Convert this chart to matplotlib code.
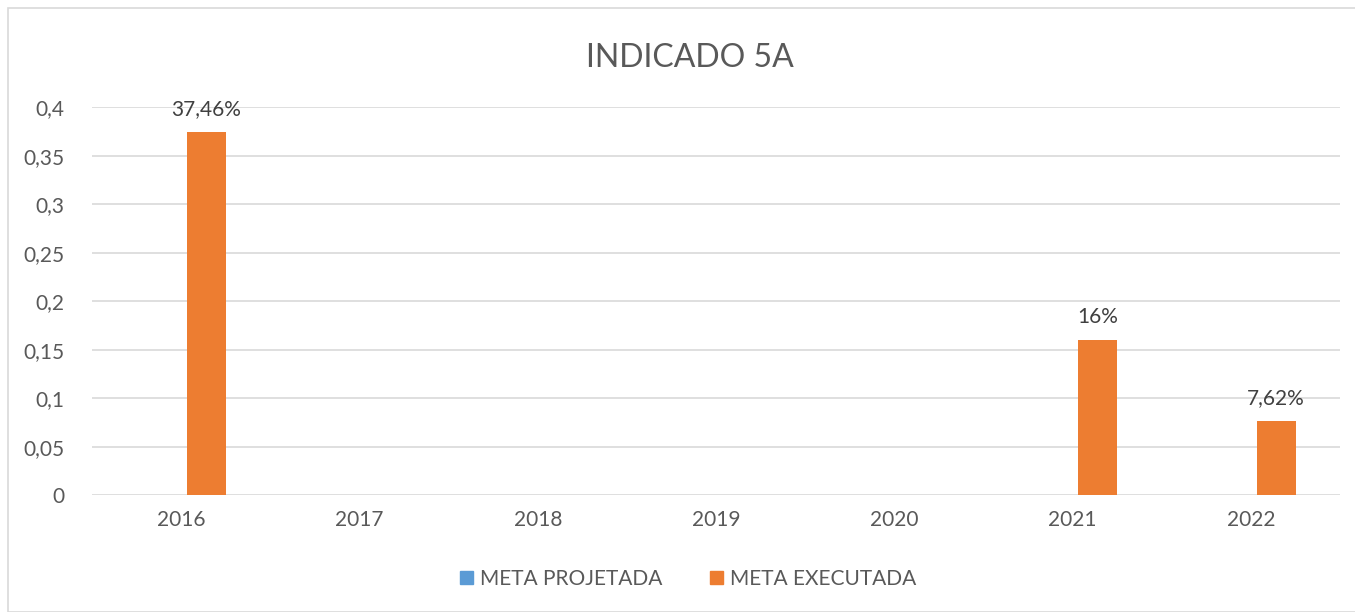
import matplotlib.pyplot as plt
import numpy as np
from matplotlib.patches import Rectangle, Patch

years = ['2016', '2017', '2018', '2019', '2020', '2021', '2022']
meta_projetada = [0, 0, 0, 0, 0, 0, 0]
meta_executada = [0.3746, None, None, None, None, 0.16, 0.0762]
labels_executada = ['37,46%', '', '', '', '', '16%', '7,62%']
yticks = [0, 0.05, 0.1, 0.15, 0.2, 0.25, 0.3, 0.35, 0.4]

plt.rcParams['font.family'] = ['Lato', 'DejaVu Sans']
textColor = '#595959'
blue = '#5b9bd5'
orange = '#ed7d31'

fig = plt.figure(figsize=(13.55, 6.12), dpi=100)
ax = fig.add_axes([0.0679, 0.191, 0.921, 0.634])

x = np.arange(len(years))
width = 0.22
offset = 0.142

# blue series is empty (zeros), only drawn for legend consistency
ax.bar(x - offset, meta_projetada, width, color=blue)
execVals = [v if v is not None else 0 for v in meta_executada]
ax.bar(x + offset, execVals, width, color=orange)

for i, v in enumerate(meta_executada):
    if v is not None:
        ax.text(x[i] + offset, v + 0.013, labels_executada[i], ha='center', va='bottom',
                fontsize=15, color='#404040')

ax.set_xlim(-0.5, len(years) - 0.5)
ax.set_ylim(0, 0.4)
ax.set_yticks(yticks)
ax.set_yticklabels([('%g' % t).replace('.', ',') for t in yticks])
ax.set_xticks(x)
ax.set_xticklabels(years)
ax.tick_params(axis='both', length=0, labelsize=15, labelcolor=textColor)
ax.tick_params(axis='y', pad=20)
ax.tick_params(axis='x', pad=11)
ax.grid(axis='y', color='#d9d9d9', linewidth=1.2)
ax.set_axisbelow(True)
for s in ax.spines.values():
    s.set_visible(False)

fig.text(0.509, 0.905, 'INDICADO 5A', ha='center', va='center', fontsize=23, color=textColor)

handles = [Patch(color=blue, label='META PROJETADA'), Patch(color=orange, label='META EXECUTADA')]
fig.legend(handles=handles, loc='center', bbox_to_anchor=(0.508, 0.054), ncol=2, frameon=False,
           fontsize=15, labelcolor=textColor, handlelength=0.6, handleheight=0.6,
           handletextpad=0.35, columnspacing=2.3)

fig.patches.append(Rectangle((8 / 1355, 0), 1.0, 1 - 8 / 612, transform=fig.transFigure,
                             fill=False, edgecolor='#d9d9d9', linewidth=1.2))

plt.savefig('out.png', dpi=100)
